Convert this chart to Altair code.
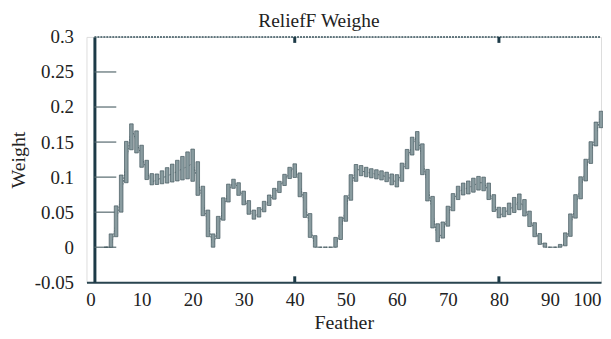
import altair as alt
import pandas as pd

# ---- data ----
features = list(range(3, 101))

weight_min = [
    0.000, 0.000, 0.030, 0.070, 0.114, 0.164, 0.145, 0.124, 0.104, 0.089,   # 3-12
    0.090, 0.091, 0.092, 0.094, 0.095, 0.097, 0.098, 0.100, 0.088, 0.060,   # 13-22
    0.030, 0.000, 0.025, 0.052, 0.077, 0.091, 0.081, 0.067, 0.054, 0.040,   # 23-32
    0.046, 0.055, 0.064, 0.073, 0.083, 0.093, 0.103, 0.112, 0.087, 0.057,   # 33-42
    0.028, 0.000, 0.000, 0.000, 0.000, 0.000, 0.022, 0.052, 0.082, 0.106,   # 43-52
    0.103, 0.101, 0.100, 0.098, 0.097, 0.095, 0.092, 0.086, 0.102, 0.122,   # 53-62
    0.141, 0.155, 0.122, 0.085, 0.047, 0.008, 0.018, 0.042, 0.062, 0.074,   # 63-72
    0.075, 0.077, 0.080, 0.083, 0.085, 0.076, 0.060, 0.042, 0.045, 0.048,   # 73-82
    0.051, 0.056, 0.052, 0.037, 0.022, 0.008, 0.000, 0.000, 0.000, 0.000,   # 83-92
    0.004, 0.027, 0.056, 0.082, 0.107, 0.132, 0.157, 0.184,                 # 93-100
]

weight_max = [
    0.000, 0.000, 0.038, 0.080, 0.126, 0.176, 0.156, 0.135, 0.113, 0.097,   # 3-12
    0.102, 0.107, 0.111, 0.116, 0.121, 0.127, 0.132, 0.140, 0.104, 0.070,   # 13-22
    0.036, 0.002, 0.030, 0.058, 0.083, 0.097, 0.087, 0.073, 0.060, 0.046,   # 23-32
    0.052, 0.061, 0.070, 0.079, 0.089, 0.099, 0.109, 0.119, 0.093, 0.063,   # 33-42
    0.033, 0.000, 0.000, 0.000, 0.000, 0.000, 0.028, 0.058, 0.089, 0.118,   # 43-52
    0.115, 0.113, 0.111, 0.110, 0.108, 0.106, 0.103, 0.097, 0.110, 0.130,   # 53-62
    0.149, 0.165, 0.130, 0.092, 0.053, 0.014, 0.024, 0.048, 0.069, 0.084,   # 63-72
    0.090, 0.093, 0.096, 0.101, 0.099, 0.084, 0.066, 0.048, 0.053, 0.060,   # 73-82
    0.066, 0.076, 0.060, 0.043, 0.027, 0.012, 0.000, 0.000, 0.000, 0.000,   # 83-92
    0.008, 0.033, 0.062, 0.088, 0.113, 0.138, 0.163, 0.194,                 # 93-100
]

chart_title = "ReliefF Weighe"
x_ticks = list(range(0, 101, 10))
y_ticks = [-0.05, 0, 0.05, 0.1, 0.15, 0.2, 0.25, 0.3]
inner_y_ticks = [0, 0.05, 0.1, 0.15, 0.2, 0.25]
frame_ticks = [40, 80]

# ---- build table: each bar spans the series spread plus half-way to neighbours ----
df = pd.DataFrame({"feature": features, "wmin": weight_min, "wmax": weight_max})
prev_min = df["wmin"].shift(1).fillna(df["wmin"])
next_min = df["wmin"].shift(-1).fillna(df["wmin"])
prev_max = df["wmax"].shift(1).fillna(df["wmax"])
next_max = df["wmax"].shift(-1).fillna(df["wmax"])
df["bar_lo"] = pd.concat([df["wmin"], (df["wmin"] + prev_min) / 2, (df["wmin"] + next_min) / 2], axis=1).min(axis=1)
df["bar_hi"] = pd.concat([df["wmax"], (df["wmax"] + prev_max) / 2, (df["wmax"] + next_max) / 2], axis=1).max(axis=1)
df["wmean"] = (df["wmin"] + df["wmax"]) / 2

FONT = "Liberation Serif"
x_scale = alt.Scale(domain=[-0.8, 100], nice=False, zero=False, padding=0)
y_scale = alt.Scale(domain=[-0.05, 0.3], nice=False, zero=False, padding=0)

x_axis = alt.Axis(
    values=x_ticks, title="Feather", grid=False, ticks=False, labelOverlap=False,
    domainColor="#2a4550", domainWidth=2,
    labelFont=FONT, labelFontSize=19, labelColor="#222222", labelPadding=8,
    labelFlush=2, labelFlushOffset=0,
    titleFont=FONT, titleFontSize=20, titleFontWeight="normal", titleColor="#222222", titlePadding=4,
)
y_axis = alt.Axis(
    values=y_ticks, title="Weight", grid=False, ticks=False, offset=-8, labelOverlap=False,
    domainColor="#1c3a47", domainWidth=3,
    labelFont=FONT, labelFontSize=19, labelColor="#222222", labelPadding=21,
    labelExpr="'' + datum.value",
    titleFont=FONT, titleFontSize=20, titleFontWeight="normal", titleColor="#222222", titlePadding=6,
)

base = alt.Chart(df)

mean_line = base.mark_line(color="#6d8186", strokeWidth=1, strokeDash=[2, 1]).encode(
    x=alt.X("feature:Q", scale=x_scale, axis=x_axis),
    y=alt.Y("wmean:Q", scale=y_scale, axis=y_axis),
)

bars = base.mark_bar(width=3.6, fill="#8a9ca0", stroke="#42575c", strokeWidth=0.7).encode(
    x=alt.X("feature:Q", scale=x_scale, axis=x_axis),
    y=alt.Y("bar_lo:Q", scale=y_scale, axis=y_axis),
    y2="bar_hi:Q",
)

top_frame = alt.Chart(pd.DataFrame({"v": [0.3]})).mark_rule(
    color="#34505a", strokeWidth=1.5, strokeDash=[2, 1]
).encode(y=alt.Y("v:Q", scale=y_scale, axis=y_axis), x=alt.value(8), x2=alt.value(518))

inner_ticks = alt.Chart(pd.DataFrame({"v": inner_y_ticks})).mark_rule(
    color="#56696e", strokeWidth=1.2
).encode(y=alt.Y("v:Q", scale=y_scale, axis=y_axis), x=alt.value(8), x2=alt.value(30))

frame_df = pd.DataFrame({"f": frame_ticks})
top_marks = alt.Chart(frame_df).mark_rule(color="#1c3a47", strokeWidth=3).encode(
    x=alt.X("f:Q", scale=x_scale, axis=x_axis), y=alt.value(0), y2=alt.value(6)
)
bottom_marks = alt.Chart(frame_df).mark_rule(color="#1c3a47", strokeWidth=3).encode(
    x=alt.X("f:Q", scale=x_scale, axis=x_axis), y=alt.value(241), y2=alt.value(247)
)

title_text = alt.Chart(pd.DataFrame({"t": [chart_title]})).mark_text(
    font=FONT, fontSize=19.5, color="#222222", align="left", baseline="alphabetic"
).encode(text="t:N", x=alt.value(173), y=alt.value(-10))

chart = alt.layer(
    mean_line, inner_ticks, bars, top_frame, top_marks, bottom_marks, title_text
).properties(
    width=518,
    height=247,
    autosize=alt.AutoSizeParams(type="none"),
    padding={"left": 79, "top": 28, "right": 2, "bottom": 56},
).configure_view(stroke=None).configure_axis(labelOverlap=False).configure(background="white")

chart.save("out.html", embed_options={"renderer": "svg", "actions": False})
